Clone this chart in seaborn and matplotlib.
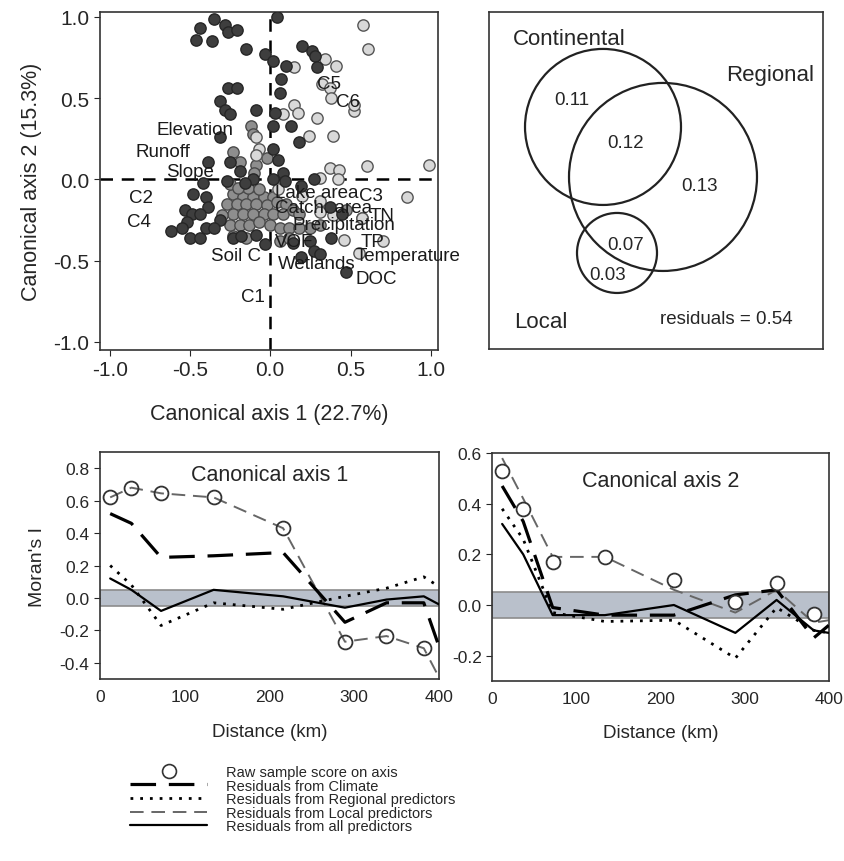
import numpy as np
import pandas as pd
import seaborn as sns
import matplotlib.pyplot as plt
from matplotlib.patches import Circle
from matplotlib.lines import Line2D
from matplotlib.ticker import FormatStrFormatter

sns.set_style('white')
plt.rcParams['font.family'] = ['Liberation Sans', 'DejaVu Sans']
plt.rcParams['axes.unicode_minus'] = False

# --- canonical scores ---
dark_x = [-0.44, -0.35, -0.28, -0.26, -0.21, -0.46, -0.36, -0.15, -0.03, 0.04,
          0.02, 0.10, 0.07, 0.06, -0.26, -0.21, -0.31, -0.28, -0.25, -0.09,
          0.03, 0.02, 0.13, 0.18, -0.31, -0.39, -0.25, -0.19, 0.02, 0.05,
          0.08, -0.27, -0.42, -0.48, -0.40, -0.39, -0.53, -0.49, -0.44, -0.31,
          -0.40, -0.52, -0.62, -0.55, -0.50, -0.44, -0.35, -0.23, -0.18, -0.09,
          -0.03, 0.20, 0.26, 0.28, 0.29, 0.27, 0.19, 0.38, 0.25, 0.27,
          0.31, 0.19, 0.47, 0.14, 0.45, 0.37, 0.02, -0.11, -0.16, 0.09]
dark_y = [0.93, 0.99, 0.95, 0.91, 0.92, 0.86, 0.85, 0.80, 0.77, 1.00,
          0.73, 0.70, 0.62, 0.53, 0.56, 0.56, 0.48, 0.43, 0.40, 0.43,
          0.41, 0.33, 0.33, 0.23, 0.26, 0.11, 0.11, 0.05, 0.19, 0.12,
          0.04, -0.01, -0.02, -0.09, -0.11, -0.17, -0.19, -0.21, -0.21, -0.25,
          -0.30, -0.26, -0.32, -0.30, -0.36, -0.36, -0.30, -0.36, -0.35, -0.34,
          -0.40, 0.82, 0.79, 0.76, 0.69, 0.00, -0.04, -0.36, -0.38, -0.44,
          -0.46, -0.48, -0.57, -0.39, -0.21, -0.17, 0.00, 0.00, -0.02, -0.01]
mid_x = [-0.12, -0.11, -0.23, -0.19, -0.09, -0.10, -0.02, -0.23, -0.17, -0.11,
         -0.04, 0.02, -0.27, -0.21, -0.15, -0.09, -0.02, 0.04, 0.10, -0.23,
         -0.17, -0.11, -0.04, 0.02, 0.08, 0.14, 0.18, -0.25, -0.19, -0.13,
         -0.07, 0.00, 0.06, 0.12, 0.18, 0.25, 0.31, -0.23, -0.15, 0.06,
         0.12, -0.25, -0.14, -0.07, 0.47, 0.57, -0.30, -0.20]
mid_y = [0.33, 0.28, 0.17, 0.11, 0.09, 0.04, 0.13, -0.09, -0.11, -0.11,
         -0.11, -0.11, -0.15, -0.15, -0.15, -0.15, -0.16, -0.14, -0.15, -0.21,
         -0.21, -0.21, -0.21, -0.21, -0.21, -0.19, -0.21, -0.28, -0.28, -0.28,
         -0.26, -0.28, -0.30, -0.30, -0.30, -0.30, -0.28, -0.35, -0.36, -0.38,
         -0.36, -0.03, -0.05, -0.06, -0.19, -0.24, -0.22, -0.05]
light_x = [0.58, 0.61, 0.34, 0.41, 0.15, 0.32, 0.37, 0.38, 0.52, 0.52,
           0.15, 0.17, 0.08, 0.29, 0.39, 0.24, 0.99, 0.60, 0.37, 0.43,
           0.31, 0.42, 0.85, 0.57, 0.46, 0.70, 0.55, -0.09, -0.07, -0.09,
           0.39, 0.31, 0.31, 0.20, 0.05]
light_y = [0.95, 0.80, 0.74, 0.70, 0.69, 0.59, 0.56, 0.50, 0.42, 0.46,
           0.46, 0.41, 0.40, 0.38, 0.27, 0.27, 0.09, 0.08, 0.07, 0.06,
           0.01, 0.00, -0.11, -0.24, -0.37, -0.38, -0.45, 0.26, 0.19, 0.15,
           -0.22, -0.20, -0.13, -0.10, -0.06]

# predictor labels (x, y position of label start)
var_names = ['Elevation', 'Runoff', 'Slope', 'C2', 'C4', 'Soil C', 'C1',
             'Lake area', 'C3', 'Catch. area', 'TN', 'Precipitation', 'VOF',
             'TP', 'Temperature', 'Wetlands', 'DOC', 'C5', 'C6']
var_x = [-0.71, -0.84, -0.65, -0.88, -0.89, -0.37, -0.18,
         0.03, 0.55, 0.03, 0.62, 0.14, 0.03,
         0.56, 0.53, 0.05, 0.53, 0.29, 0.41]
var_y = [0.31, 0.17, 0.05, -0.11, -0.26, -0.47, -0.72,
         -0.08, -0.10, -0.17, -0.22, -0.28, -0.38,
         -0.38, -0.47, -0.52, -0.61, 0.59, 0.48]

# --- variation partitioning ---
venn_names = ['Continental', 'Regional', 'Local']
venn_values = [0.11, 0.12, 0.13, 0.07, 0.03]
residual = 0.54

# --- Moran's I correlograms ---
distance = [12, 37, 72, 134, 216, 289, 338, 382, 400]
ax1_raw = [0.62, 0.68, 0.645, 0.62, 0.43, -0.27, -0.235, -0.31, np.nan]
ax1_climate = [0.52, 0.46, 0.25, 0.26, 0.28, -0.15, -0.03, -0.03, -0.30]
ax1_regional = [0.20, 0.08, -0.17, -0.03, -0.07, 0.01, 0.06, 0.13, 0.07]
ax1_local = [0.62, 0.68, 0.645, 0.62, 0.43, -0.27, -0.235, -0.31, -0.49]
ax1_all = [0.12, 0.05, -0.08, 0.05, 0.01, -0.06, -0.01, 0.01, -0.04]

ax2_raw = [0.53, 0.38, 0.17, 0.19, 0.10, 0.01, 0.085, -0.035, np.nan]
ax2_climate = [0.47, 0.33, -0.01, -0.04, -0.04, 0.04, 0.06, -0.13, -0.08]
ax2_regional = [0.38, 0.26, -0.03, -0.065, -0.06, -0.21, -0.01, -0.10, -0.11]
ax2_local = [0.58, 0.42, 0.19, 0.19, 0.06, -0.03, 0.06, -0.07, -0.06]
ax2_all = [0.32, 0.20, -0.04, -0.04, 0.00, -0.11, 0.02, -0.10, -0.11]

legend_labels = ['Raw sample score on axis', 'Residuals from Climate',
                 'Residuals from Regional predictors',
                 'Residuals from Local predictors',
                 'Residuals from all predictors']

fig = plt.figure(figsize=(8.44, 8.62), dpi=100)

# ---------------- scatter ----------------
ax = fig.add_axes([0.1185, 0.5928, 0.4005, 0.392])
ax.axhline(0, color='black', lw=1.8, ls=(0, (5, 3.5)), zorder=1)
ax.axvline(0, color='black', lw=1.8, ls=(0, (5, 3.5)), zorder=1)
sns.scatterplot(x=mid_x, y=mid_y, ax=ax, s=66, color='#8e8e8e',
                edgecolor='#4a4a4a', linewidth=1, zorder=2)
sns.scatterplot(x=light_x, y=light_y, ax=ax, s=66, color='#d8d8d8',
                edgecolor='#555555', linewidth=1, zorder=2)
sns.scatterplot(x=dark_x, y=dark_y, ax=ax, s=66, color='#3e3e3e',
                edgecolor='#262626', linewidth=1, zorder=3)
for name, tx, ty in zip(var_names, var_x, var_y):
    ax.text(tx, ty, name, fontsize=13.5, color='#1a1a1a', ha='left',
            va='center', zorder=4)
ax.set_xlim(-1.06, 1.045)
ax.set_ylim(-1.05, 1.03)
ax.set_xticks([-1, -0.5, 0, 0.5, 1])
ax.set_yticks([-1, -0.5, 0, 0.5, 1])
ax.xaxis.set_major_formatter(FormatStrFormatter('%.1f'))
ax.yaxis.set_major_formatter(FormatStrFormatter('%.1f'))
ax.tick_params(labelsize=15, length=4, direction='out', left=True, bottom=True)
ax.set_xlabel('Canonical axis 1 (22.7%)', fontsize=15.5, labelpad=17)
ax.set_ylabel('Canonical axis 2 (15.3%)', fontsize=15.5, labelpad=8)
for sp in ax.spines.values():
    sp.set_color('#333333')
    sp.set_linewidth(1.2)

# ---------------- venn ----------------
av = fig.add_axes([0.5794, 0.594, 0.3957, 0.391])
av.set_xlim(0, 334)
av.set_ylim(337, 0)
av.set_xticks([])
av.set_yticks([])
for (cx, cy, r) in [(114, 115, 78), (174, 165, 94), (128, 241, 40)]:
    av.add_patch(Circle((cx, cy), r, fill=False, lw=1.6, ec='#222222'))
av.text(80, 27, venn_names[0], fontsize=16, ha='center', va='center')
av.text(281, 63, venn_names[1], fontsize=16, ha='center', va='center')
av.text(52, 310, venn_names[2], fontsize=16, ha='center', va='center')
for val, (tx, ty) in zip(venn_values, [(83, 88), (137, 131), (211, 174),
                                       (137, 233), (119, 263)]):
    av.text(tx, ty, f'{val:.2f}', fontsize=13.5, ha='center', va='center')
av.text(237, 307, f'residuals = {residual:.2f}', fontsize=13.5,
        ha='center', va='center')
for sp in av.spines.values():
    sp.set_color('#333333')
    sp.set_linewidth(1.2)

# ---------------- correlograms ----------------
def correlogram(axc, raw, climate, regional, local, allp, face):
    axc.axhspan(-0.05, 0.05, facecolor='#b9c0cb', edgecolor='#8c8c8c',
                lw=1.2, zorder=0)
    sns.lineplot(x=distance, y=local, ax=axc, color='#666666', lw=1.4,
                 linestyle=(0, (7, 4)), sort=False, zorder=2)
    sns.lineplot(x=distance, y=climate, ax=axc, color='black', lw=2.3,
                 linestyle=(0, (8, 4)), sort=False, zorder=3)
    sns.lineplot(x=distance, y=regional, ax=axc, color='black', lw=2,
                 linestyle=(0, (1, 2.5)), sort=False, zorder=3)
    sns.lineplot(x=distance, y=allp, ax=axc, color='black', lw=1.6,
                 sort=False, zorder=3)
    axc.plot(distance, raw, 'o', ms=10, mfc=face, mec='#333333', mew=1.3,
             zorder=4)
    axc.set_xlim(0, 400)
    axc.set_xticks([0, 100, 200, 300, 400])
    axc.yaxis.set_major_formatter(FormatStrFormatter('%.1f'))
    axc.tick_params(labelsize=12.5, length=4, direction='out',
                    left=True, bottom=False)
    axc.set_xlabel('Distance (km)', fontsize=13.5, labelpad=13)
    for sp in axc.spines.values():
        sp.set_color('#333333')
        sp.set_linewidth(1.2)

a1 = fig.add_axes([0.1185, 0.2111, 0.4017, 0.2634])
correlogram(a1, ax1_raw, ax1_climate, ax1_regional, ax1_local, ax1_all, 'none')
a1.set_ylim(-0.5, 0.9)
a1.set_yticks([-0.4, -0.2, 0, 0.2, 0.4, 0.6, 0.8])
a1.set_ylabel("Moran's I", fontsize=14, labelpad=10)
a1.text(0.5, 0.903, 'Canonical axis 1', transform=a1.transAxes,
        fontsize=15.5, ha='center', va='center')

a2 = fig.add_axes([0.583, 0.2088, 0.399, 0.2645])
correlogram(a2, ax2_raw, ax2_climate, ax2_regional, ax2_local, ax2_all, 'white')
a2.set_ylim(-0.3, 0.6)
a2.set_yticks([-0.2, 0, 0.2, 0.4, 0.6])
a2.text(0.5, 0.878, 'Canonical axis 2', transform=a2.transAxes,
        fontsize=15.5, ha='center', va='center')

# ---------------- legend ----------------
handles = [
    Line2D([], [], ls='none', marker='o', ms=10, mfc='white', mec='#333333', mew=1.2),
    Line2D([], [], color='black', lw=2.3, ls=(0, (8, 4))),
    Line2D([], [], color='black', lw=2, ls=(0, (1, 2.5))),
    Line2D([], [], color='#666666', lw=1.4, ls=(0, (7, 4))),
    Line2D([], [], color='black', lw=1.6),
]
fig.legend(handles, legend_labels, loc='upper left',
           bbox_to_anchor=(130 / 844, 1 - 766 / 862), frameon=False,
           fontsize=10.5, handlelength=5.3, handletextpad=1.3,
           labelspacing=-0.03, borderpad=0, borderaxespad=0)

fig.savefig('out.png', dpi=100)
